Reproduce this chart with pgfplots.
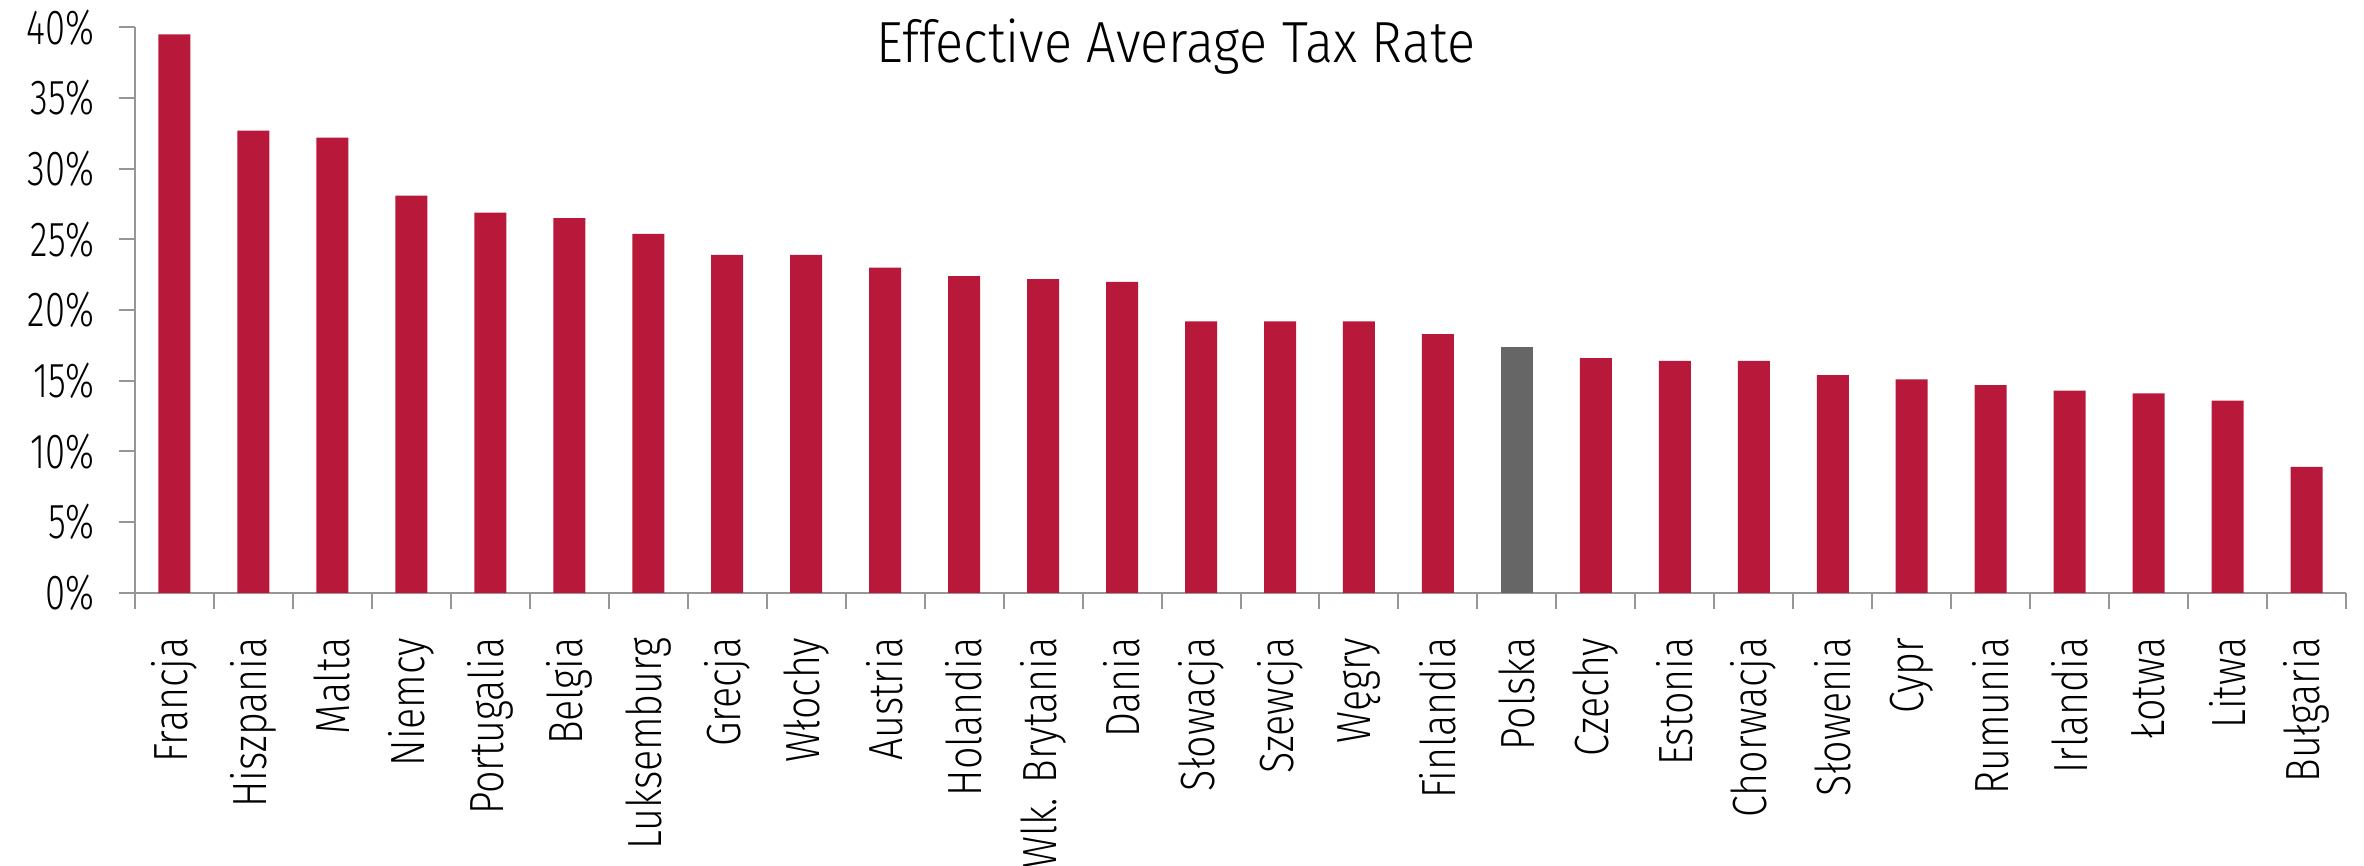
\documentclass[border=0pt]{standalone}
\usepackage{pgfplots}
\pgfplotsset{compat=1.18}
\usepackage{fontspec}
\setmainfont{Fira Sans}[UprightFont=* Light, FakeStretch=0.82]
\newfontfamily\titlefont{Fira Sans}[UprightFont=* Light, FakeStretch=0.9]
\newfontfamily\numfont{Fira Sans}[UprightFont=* Light, FakeStretch=0.74]

\definecolor{barred}{RGB}{184,25,58}
\definecolor{bargray}{RGB}{102,102,102}
\definecolor{axgray}{RGB}{150,150,150}

\begin{document}
\begin{tikzpicture}
\useasboundingbox (0,0) rectangle (591pt,216.5pt);
\begin{axis}[
    at={(33.75pt,68.3pt)}, anchor=south west,
    scale only axis,
    width=552.75pt, height=141.35pt,
    xmin=-0.5, xmax=27.5,
    ymin=0, ymax=40,
    axis x line*=bottom, axis y line*=left,
    axis line style={axgray, line width=0.5pt, -},
    ytick={0,5,...,40},
    yticklabel={\pgfmathprintnumber{\tick}\%},
    xtick={0,...,27},
    xticklabels={Francja, Hiszpania, Malta, Niemcy, Portugalia, Belgia,
        Luksemburg, Grecja, Włochy, Austria, Holandia, Wlk. Brytania, Dania,
        Słowacja, Szewcja, Węgry, Finlandia, Polska, Czechy, Estonia,
        Chorwacja, Słowenia, Cypr, Rumunia, Irlandia, Łotwa, Litwa, Bułgaria},
    minor xtick={-0.5,0.5,...,27.5},
    tick style={axgray, line width=0.5pt},
    major x tick style={draw=none},
    tick align=outside,
    major tick length=4pt, minor tick length=4pt,
    /pgf/number format/assume math mode=true,
    ticklabel style={font=\fontsize{12}{12}\selectfont, inner sep=0pt},
    xticklabel style={rotate=90, anchor=east},
    xticklabel shift=7pt,
    yticklabel style={anchor=east, font=\numfont\fontsize{12.3}{12.3}\selectfont},
    yticklabel shift=6pt,
    ybar, bar width=8pt,
    every axis plot/.append style={draw=none, bar shift=0pt},
]
% all countries except Poland
\addplot[fill=barred] coordinates {
    (0,39.5)(1,32.7)(2,32.2)(3,28.1)(4,26.9)(5,26.5)(6,25.4)(7,23.9)
    (8,23.9)(9,23.0)(10,22.4)(11,22.2)(12,22.0)(13,19.2)(14,19.2)(15,19.2)
    (16,18.3)(18,16.6)(19,16.4)(20,16.4)(21,15.4)(22,15.1)(23,14.7)
    (24,14.3)(25,14.1)(26,13.6)(27,8.9)
};
% Poland highlighted
\addplot[fill=bargray] coordinates {(17,17.4)};
\end{axis}
\node[anchor=base, font=\titlefont\fontsize{14.5}{14.5}\selectfont] at (294pt,200.75pt)
    {Effective Average Tax Rate};
\end{tikzpicture}
\end{document}
